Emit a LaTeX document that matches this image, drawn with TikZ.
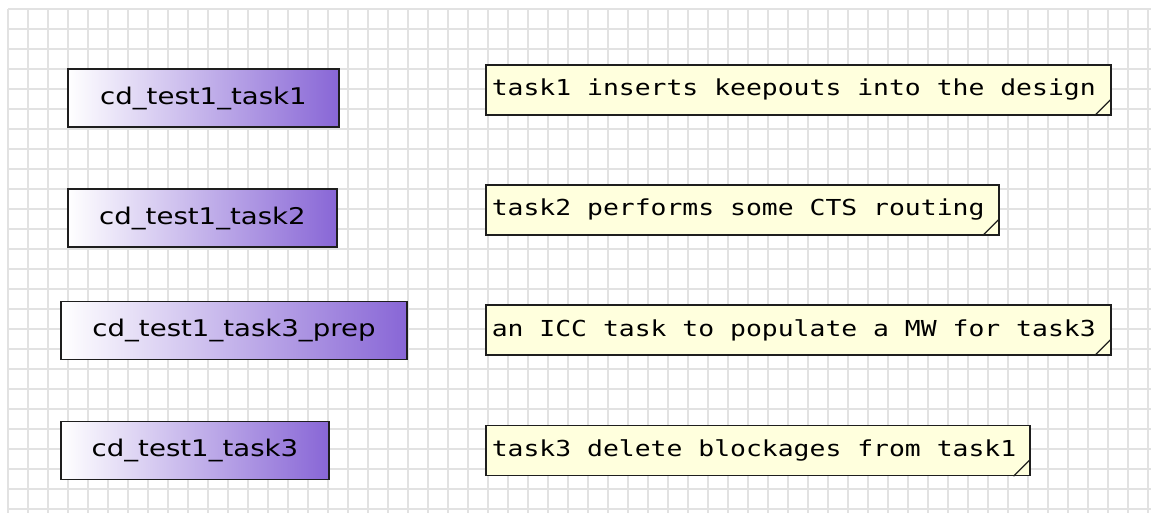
\documentclass[tikz,border=0pt]{standalone}
\usepackage{fontspec}
\newfontfamily\boxfont[FakeStretch=1.2]{DejaVu Sans}
\newfontfamily\notefont[FakeStretch=1.2]{DejaVu Sans Mono}
% left-aligned note line in a box of fixed width
\newcommand\noteline[2]{\makebox[#1][l]{#2}}
\definecolor{gridgray}{RGB}{226,226,226}
\definecolor{taskpurple}{RGB}{136,102,214}
\definecolor{notefill}{RGB}{255,255,221}
\definecolor{edgeline}{RGB}{30,30,30}
\begin{document}
\begin{tikzpicture}[x=1pt,y=-1pt,
  gridline/.style={draw=gridgray,line width=2pt},
  taskbox/.style={rectangle,draw=edgeline,line width=1.5pt,left color=white,
    right color=taskpurple,inner sep=0pt,minimum height=58pt,
    font=\boxfont\fontsize{23}{27}\selectfont},
  notebox/.style={rectangle,draw=edgeline,line width=1.5pt,fill=notefill,
    inner xsep=6pt,inner ysep=0pt,minimum height=50pt,anchor=west,
    font=\notefont\fontsize{22}{26}\selectfont},
  fold/.style={draw=edgeline,line width=1.2pt}]

% page and background grid
\fill[white] (0,0) rectangle (1151,513);
\useasboundingbox (0,0) rectangle (1151,513);
\foreach \i in {0,...,57} \draw[gridline] (8+20*\i,9) -- (8+20*\i,513);
\foreach \j in {0,...,25} \draw[gridline] (8,9+20*\j) -- (1151,9+20*\j);

% tasks
\node[taskbox,minimum width=271pt] (t1) at (203.5,98)   {cd\_test1\_task1};
\node[taskbox,minimum width=269pt] (t2) at (202.5,218)  {cd\_test1\_task2};
\node[taskbox,minimum width=346pt] (t3) at (234,330.5)  {cd\_test1\_task3\_prep};
\node[taskbox,minimum width=268pt] (t4) at (195,450.5)  {cd\_test1\_task3};

% notes
\node[notebox] (n1) at (485,90)    {\noteline{613pt}{task1 inserts keepouts into the design}};
\node[notebox] (n2) at (485,210)   {\noteline{501pt}{task2 performs some CTS routing}};
\node[notebox] (n3) at (485,330)   {\noteline{613pt}{an ICC task to populate a MW for task3}};
\node[notebox] (n4) at (485,450.5) {\noteline{532pt}{task3 delete blockages from task1}};

% folded corners of the notes
\foreach \n in {n1,n2,n3,n4}
  \draw[fold] ([xshift=-17pt]\n.south east) -- ([yshift=17pt]\n.south east);
\end{tikzpicture}
\end{document}
